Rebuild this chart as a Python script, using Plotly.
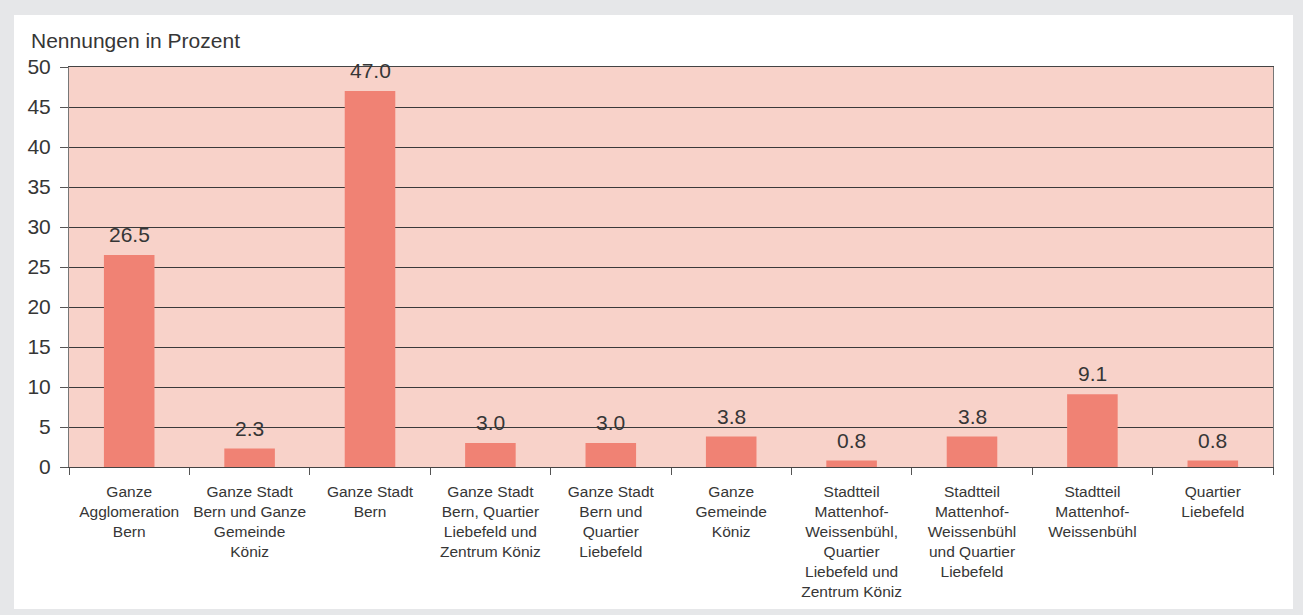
import plotly.graph_objects as go

# Nennungen in Prozent je Gebiet
categories = [
    "Ganze<br>Agglomeration<br>Bern",
    "Ganze Stadt<br>Bern und Ganze<br>Gemeinde<br>Köniz",
    "Ganze Stadt<br>Bern",
    "Ganze Stadt<br>Bern, Quartier<br>Liebefeld und<br>Zentrum Köniz",
    "Ganze Stadt<br>Bern und<br>Quartier<br>Liebefeld",
    "Ganze<br>Gemeinde<br>Köniz",
    "Stadtteil<br>Mattenhof-<br>Weissenbühl,<br>Quartier<br>Liebefeld und<br>Zentrum Köniz",
    "Stadtteil<br>Mattenhof-<br>Weissenbühl<br>und Quartier<br>Liebefeld",
    "Stadtteil<br>Mattenhof-<br>Weissenbühl",
    "Quartier<br>Liebefeld",
]
values = [26.5, 2.3, 47.0, 3.0, 3.0, 3.8, 0.8, 3.8, 9.1, 0.8]
y_ticks = [0, 5, 10, 15, 20, 25, 30, 35, 40, 45, 50]

FONT = "Liberation Sans, Arial, sans-serif"
TEXT = "#363636"

fig = go.Figure(
    go.Bar(
        x=categories,
        y=values,
        marker=dict(color="#f08274", line=dict(width=0)),
        hoverinfo="skip",
    )
)

W, H = 1303, 615
L, R, T, B = 69, 30, 67, 148
pw, ph = W - L - R, H - T - B


def px_x(x):
    return (x - L) / pw


def px_y(y):
    return (H - B - y) / ph


# value labels above each bar
value_labels = [
    dict(x=c, y=v, text=f"{v:.1f}", xref="x", yref="y",
         xanchor="center", yanchor="bottom", yshift=7, showarrow=False,
         font=dict(family=FONT, size=21, color=TEXT))
    for c, v in zip(categories, values)
]

fig.update_layout(
    width=W,
    height=H,
    margin=dict(l=L, r=R, t=T, b=B, pad=0),
    paper_bgcolor="#e6e7e9",
    plot_bgcolor="rgba(0,0,0,0)",
    bargap=0.58,
    showlegend=False,
    font=dict(family=FONT, color=TEXT),
    shapes=[
        # white panel inside the grey frame
        dict(type="rect", xref="paper", yref="paper", layer="below",
             x0=px_x(14), x1=px_x(1293), y0=px_y(609), y1=px_y(15),
             fillcolor="white", line=dict(width=0)),
        # plot area fill
        dict(type="rect", xref="paper", yref="paper", layer="below",
             x0=0, x1=1, y0=0, y1=1,
             fillcolor="#f8d2c9", line=dict(width=0)),
    ],
    annotations=[
        dict(text="Nennungen in Prozent", xref="paper", yref="paper",
             x=px_x(29), y=px_y(40), xanchor="left", yanchor="middle",
             showarrow=False, font=dict(family=FONT, size=21, color=TEXT)),
    ] + value_labels,
)

fig.update_xaxes(
    tickson="boundaries",
    ticks="outside",
    ticklen=7,
    tickcolor="#555555",
    tickangle=0,
    automargin=False,
    ticklabelstandoff=10,
    tickfont=dict(family=FONT, size=15.5, color=TEXT),
    showline=True,
    linecolor="#444444",
    linewidth=1,
    mirror=True,
    showgrid=False,
)

fig.update_yaxes(
    range=[0, 50],
    tickvals=y_ticks,
    ticks="outside",
    ticklen=8,
    tickcolor="#555555",
    automargin=False,
    ticklabelstandoff=5,
    tickfont=dict(family=FONT, size=21, color=TEXT),
    showline=True,
    linecolor="#777777",
    linewidth=1,
    mirror=True,
    showgrid=True,
    gridcolor="#3a3a3a",
    gridwidth=1,
    zeroline=False,
)

fig.write_html("out.html")
